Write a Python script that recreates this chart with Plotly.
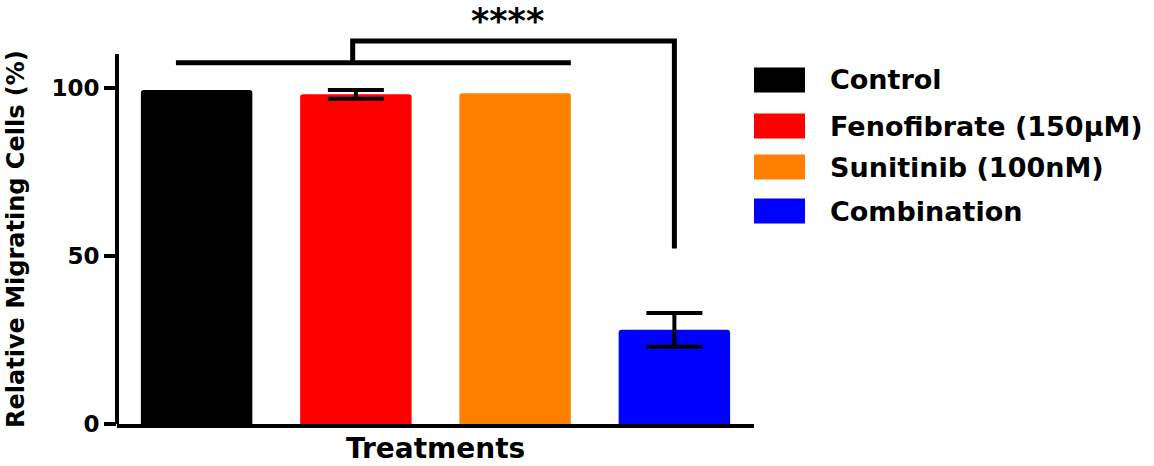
import plotly.graph_objects as go

# ---- data ----
categories = ["Control", "Fenofibrate (150µM)", "Sunitinib (100nM)", "Combination"]
values = [99.3, 98.0, 98.3, 28.0]
errors = [0.0, 1.3, 0.0, 5.0]
colors = ["#000000", "#FF0000", "#FF8000", "#0000FF"]
y_ticks = [0, 50, 100]
y_title = "Relative Migrating Cells (%)"
x_title = "Treatments"
sig_label = "****"

FONT = "DejaVu Sans, Arial, sans-serif"
YMAX = 110.0
W, H = 1154, 466
ML, MR, MT, MB = 117, 400, 54, 42
PW, PH = W - ML - MR, H - MT - MB


def px_x(X):
    return (X - ML) / PW


def px_y(Y):
    return (H - MB - Y) / PH


def yv(v):
    return v / YMAX


fig = go.Figure()
for cat, val, err, col in zip(categories, values, errors, colors):
    kw = {}
    if err > 0:
        kw["error_y"] = dict(type="data", array=[err], visible=True,
                             color="black", thickness=4, width=28)
    fig.add_trace(go.Bar(x=[cat], y=[val], name=cat, width=0.7,
                         marker=dict(color=col, line=dict(width=0), cornerradius=3),
                         showlegend=False, **kw))

shapes = []
# y-axis line
shapes.append(dict(type="line", xref="paper", yref="paper", x0=0, x1=0, y0=0, y1=1,
                   line=dict(color="black", width=4)))
# significance bar over first three groups
shapes.append(dict(type="line", xref="x", yref="paper", x0=-0.13, x1=2.35,
                   y0=yv(107.4), y1=yv(107.4), line=dict(color="black", width=5)))
# bracket to combination
shapes.append(dict(type="path", xref="x", yref="paper",
                   path=f"M 0.98 {yv(107.4)} L 0.98 {yv(113.9)} L 3.0 {yv(113.9)} L 3.0 {yv(52.2)}",
                   line=dict(color="black", width=5)))

annotations = []
annotations.append(dict(text=sig_label, xref="x", yref="paper", x=1.95, y=px_y(0),
                        showarrow=False, xanchor="center", yanchor="top", borderpad=0,
                        font=dict(family=FONT, size=35, color="black", weight="bold")))
annotations.append(dict(text=x_title, xref="paper", yref="paper", x=0.5, y=px_y(466),
                        showarrow=False, xanchor="center", yanchor="bottom", borderpad=0,
                        font=dict(family=FONT, size=28, color="black", weight="bold")))
annotations.append(dict(text=y_title, xref="paper", yref="paper", x=px_x(16), y=0.5,
                        showarrow=False, xanchor="center", yanchor="middle", textangle=-90,
                        font=dict(family=FONT, size=24, color="black", weight="bold")))

# manual legend
legend_rows = [80, 126, 167, 211]
for cat, col, ry in zip(categories, colors, legend_rows):
    shapes.append(dict(type="rect", xref="paper", yref="paper",
                       x0=px_x(754), x1=px_x(805), y0=px_y(ry + 12.5), y1=px_y(ry - 12.5),
                       fillcolor=col, line=dict(width=0)))
    annotations.append(dict(text=cat, xref="paper", yref="paper", x=px_x(828), y=px_y(ry),
                            showarrow=False, xanchor="left", yanchor="middle",
                            font=dict(family=FONT, size=27, color="black", weight="bold")))

fig.update_layout(
    width=W, height=H,
    margin=dict(l=ML, r=MR, t=MT, b=MB, pad=0),
    plot_bgcolor="white", paper_bgcolor="white",
    barmode="overlay",
    showlegend=False,
    shapes=shapes,
    annotations=annotations,
    xaxis=dict(range=[-0.5, 3.5], showticklabels=False, ticks="", showgrid=False,
               zeroline=False, showline=True, linecolor="black", linewidth=4),
    yaxis=dict(range=[0, YMAX], tickvals=y_ticks, ticks="outside", ticklen=12, tickwidth=4,
               tickcolor="black", showgrid=False, zeroline=False, showline=False,
               tickfont=dict(family=FONT, size=23, color="black", weight="bold")),
)

fig.write_html("out.html", config={"displayModeBar": False},
               post_script="document.body.style.margin='0';document.body.style.overflow='hidden';")
